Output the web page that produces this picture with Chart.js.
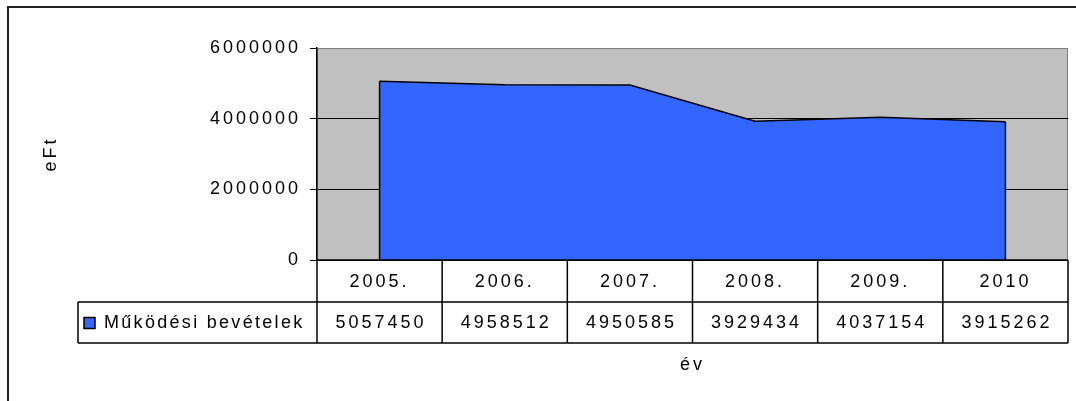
<!DOCTYPE html>
<html>
<head>
<meta charset="utf-8">
<script src="https://cdn.jsdelivr.net/npm/chart.js@4.4.0/dist/chart.umd.min.js"></script>
<style>
  html, body { margin: 0; padding: 0; background: #fff; overflow: hidden; }
</style>
</head>
<body>
<canvas id="bevetelChart" width="1076" height="401"></canvas>
<script>
// adatok
var evek = ['2005.', '2006.', '2007.', '2008.', '2009.', '2010'];
var bevetelek = [5057450, 4958512, 4950585, 3929434, 4037154, 3915262];
var sorozatNev = 'Működési bevételek';
var yMax = 6000000;
var yLepes = 2000000;

var betuCsalad = '"Liberation Sans", Arial, sans-serif';
var betu = '18px ' + betuCsalad;
var kek = '#3366FF';

// szürke háttér a rajzterületnek + keret
var hatter = {
    id: 'hatter',
    beforeDraw: function (chart) {
        var ctx = chart.ctx, ca = chart.chartArea;
        ctx.letterSpacing = '3px'; // az eredeti ábra szövege szellős
        ctx.save();
        ctx.fillStyle = '#C0C0C0';
        ctx.fillRect(ca.left, ca.top, ca.right - ca.left, ca.bottom - ca.top);
        ctx.strokeStyle = '#808080';
        ctx.lineWidth = 1;
        ctx.strokeRect(ca.left + 0.5, ca.top + 0.5, ca.right - ca.left - 1, ca.bottom - ca.top);
        // külső keret
        ctx.strokeStyle = '#222';
        ctx.lineWidth = 2;
        ctx.beginPath();
        ctx.moveTo(8, chart.height);
        ctx.lineTo(8, 7);
        ctx.lineTo(chart.width, 7);
        ctx.stroke();
        ctx.restore();
    },
    afterDatasetsDraw: function (chart) {
        // a terület két függőleges széle
        var ctx = chart.ctx, ca = chart.chartArea;
        var pontok = chart.getDatasetMeta(0).data;
        var p0 = pontok[0], pn = pontok[pontok.length - 1];
        ctx.save();
        ctx.strokeStyle = '#000';
        ctx.lineWidth = 1.5;
        ctx.beginPath();
        ctx.moveTo(p0.x, p0.y);
        ctx.lineTo(p0.x, ca.bottom);
        ctx.moveTo(pn.x, pn.y);
        ctx.lineTo(pn.x, ca.bottom);
        ctx.stroke();
        ctx.restore();
    }
};

// adattábla a tengely alatt
var tabla = {
    id: 'tabla',
    afterDraw: function (chart) {
        var ctx = chart.ctx, ca = chart.chartArea, x = chart.scales.x;
        var n = evek.length;
        var oszlop = x.getPixelForValue(1) - x.getPixelForValue(0);
        var sor1 = ca.bottom, sor2 = ca.bottom + 42, sor3 = sor2 + 41;
        var jelBal = 78;
        var jobb = x.getPixelForValue(n - 1) + oszlop / 2;

        ctx.save();
        ctx.strokeStyle = '#000';
        ctx.lineWidth = 1.5;
        ctx.beginPath();
        ctx.moveTo(ca.left, sor1); ctx.lineTo(jobb, sor1);
        ctx.moveTo(jelBal, sor2); ctx.lineTo(jobb, sor2);
        ctx.moveTo(jelBal, sor3); ctx.lineTo(jobb, sor3);
        ctx.moveTo(jelBal, sor2); ctx.lineTo(jelBal, sor3);
        for (var i = 0; i <= n; i++) {
            var bx = x.getPixelForValue(0) - oszlop / 2 + i * oszlop;
            ctx.moveTo(bx, sor1);
            ctx.lineTo(bx, sor3);
        }
        ctx.stroke();

        ctx.font = betu;
        ctx.fillStyle = '#000';
        ctx.textBaseline = 'middle';
        ctx.textAlign = 'center';
        ctx.letterSpacing = '3px';
        var ym = (sor2 + sor3) / 2 + 1;
        bevetelek.forEach(function (v, i) {
            ctx.fillText(String(v), x.getPixelForValue(i) + 1.5, ym);
        });

        // jelmagyarázat doboz
        ctx.fillStyle = kek;
        ctx.fillRect(84, ym - 6, 11, 11);
        ctx.lineWidth = 1.5;
        ctx.strokeRect(84, ym - 6, 11, 11);
        ctx.fillStyle = '#000';
        ctx.textAlign = 'left';
        ctx.letterSpacing = '2.3px';
        ctx.fillText(sorozatNev, 104, ym);
        ctx.restore();
    }
};

var ctx = document.getElementById('bevetelChart').getContext('2d');
var bevetelChart = new Chart(ctx, {
    type: 'line',
    data: {
        labels: evek,
        datasets: [{
            label: sorozatNev,
            data: bevetelek,
            borderColor: '#000',
            borderWidth: 1.5,
            backgroundColor: kek,
            fill: 'origin',
            tension: 0,
            pointRadius: 0
        }]
    },
    options: {
        responsive: false,
        animation: false,
        devicePixelRatio: 1,
        layout: { padding: { top: 48, right: 8, left: 40, bottom: 0 } },
        plugins: {
            legend: { display: false },
            tooltip: { enabled: false }
        },
        scales: {
            x: {
                offset: true,
                grid: { display: false, drawTicks: false },
                border: { display: false },
                ticks: {
                    color: '#000',
                    font: { family: betuCsalad, size: 18 },
                    padding: 11,
                    maxRotation: 0,
                    autoSkip: false
                },
                title: {
                    display: true,
                    text: 'év',
                    color: '#000',
                    font: { family: betuCsalad, size: 18 },
                    padding: { top: 0, bottom: 25 }
                },
                afterFit: function (scale) { scale.height = 141; }
            },
            y: {
                min: 0,
                max: yMax,
                ticks: {
                    stepSize: yLepes,
                    color: '#000',
                    padding: 9,
                    font: { family: betuCsalad, size: 18 },
                    callback: function (v) { return String(v); }
                },
                grid: {
                    color: function (c) { return c.tick.value === yMax ? '#808080' : '#000'; },
                    tickColor: '#000',
                    tickLength: 7,
                    lineWidth: 1
                },
                border: { color: '#000', width: 1.5 },
                title: {
                    display: true,
                    text: 'eFt',
                    color: '#000',
                    font: { family: betuCsalad, size: 18 },
                    padding: 0
                },
                afterFit: function (scale) { scale.width = 277; }
            }
        }
    },
    plugins: [hatter, tabla]
});
</script>
</body>
</html>
